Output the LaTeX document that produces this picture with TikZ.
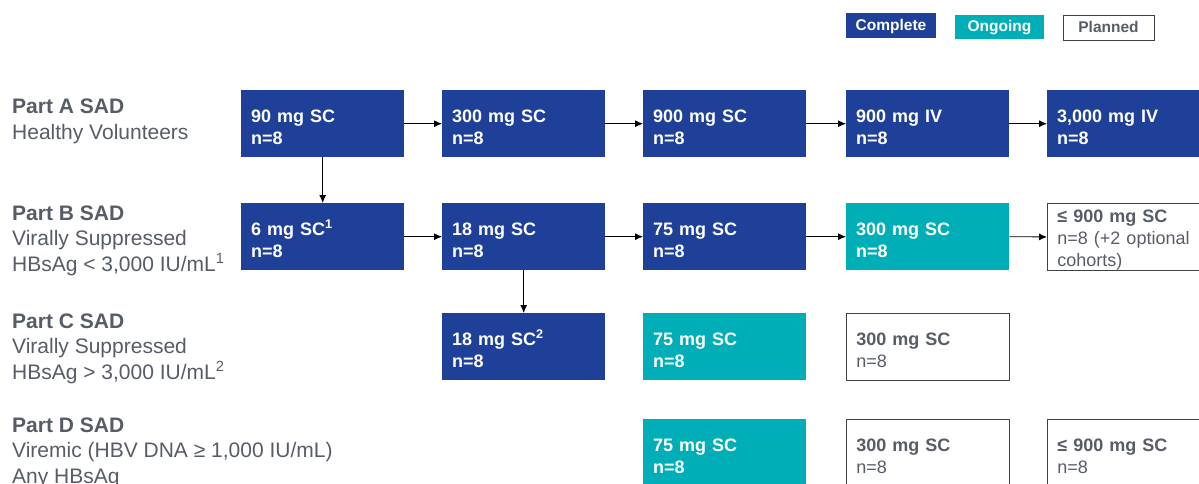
\documentclass[tikz,border=0pt]{standalone}
\usepackage{fontspec}
\setmainfont{Liberation Sans}
\usetikzlibrary{arrows.meta}
\definecolor{cblue}{RGB}{30,64,152}
\definecolor{cteal}{RGB}{0,174,183}
\definecolor{tgray}{RGB}{87,93,102}
\definecolor{bgray}{RGB}{64,64,64}
\begin{document}
\begin{tikzpicture}[x=1pt,y=-1pt,
  box/.style={rectangle, minimum width=163pt, minimum height=67pt, text width=143pt,
    inner xsep=10pt, inner ysep=0pt, align=left, anchor=north west,
    font=\fontsize{18}{22}\selectfont, text height=19pt},
  done/.style={box, fill=cblue, text=white, font=\fontsize{18}{22}\selectfont\bfseries},
  ongo/.style={box, fill=cteal, text=white, font=\fontsize{18}{22}\selectfont\bfseries},
  plan/.style={box, draw=bgray, line width=0.9pt, fill=white, text=tgray},
  lbl/.style={anchor=base west, align=left, text=tgray,
    font=\fontsize{21}{25.5}\selectfont, inner sep=0pt},
  leg/.style={rectangle, inner sep=0pt, text height=11.5pt, text depth=2pt,
    font=\fontsize{15.5}{18}\selectfont\bfseries},
  arr/.style={-{Latex[length=8pt,width=7pt]}, line width=0.8pt, black},
]
\clip (0,0) rectangle (1199,484);
\fill[white] (0,0) rectangle (1199,484);

% legend
\node[leg, fill=cblue, text=white, minimum width=90pt, minimum height=25pt] (lc) at (891,25.5) {Complete};
\node[leg, fill=cteal, text=white, minimum width=89pt, minimum height=24pt] (lo) at (999.5,27) {Ongoing};
\node[leg, draw=bgray, line width=0.9pt, text=tgray, minimum width=91pt, minimum height=25pt] (lp) at (1108.5,27.5) {Planned};

% left labels (anchored at the baseline of the last line)
\node[lbl] (la) at (12,139.5) {\textbf{Part A SAD}\\Healthy Volunteers};
\node[lbl] (lb) at (12,271) {\textbf{Part B SAD}\\Virally Suppressed\\HBsAg < 3,000 IU/mL\textsuperscript{1}};
\node[lbl] (lcc) at (12,379) {\textbf{Part C SAD}\\Virally Suppressed\\HBsAg > 3,000 IU/mL\textsuperscript{2}};
\node[lbl] (ld) at (12,483) {\textbf{Part D SAD}\\Viremic (HBV DNA ≥ 1,000 IU/mL)\\Any HBsAg};

% row A
\node[done] (a1) at (241,90) {90 mg SC\\n=8};
\node[done] (a2) at (442,90) {300 mg SC\\n=8};
\node[done] (a3) at (643,90) {900 mg SC\\n=8};
\node[done] (a4) at (846,90) {900 mg IV\\n=8};
\node[done] (a5) at (1047,90) {3,000 mg IV\\n=8};

% row B
\node[done] (b1) at (241,203) {6 mg SC\textsuperscript{1}\\n=8};
\node[done] (b2) at (442,203) {18 mg SC\\n=8};
\node[done] (b3) at (643,203) {75 mg SC\\n=8};
\node[ongo] (b4) at (846,203) {300 mg SC\\n=8};
\node[plan] (b5) at (1047,203) {\textbf{≤ 900 mg SC}\\n=8 (+2 optional cohorts)};

% row C
\node[done] (c2) at (442,313) {18 mg SC\textsuperscript{2}\\n=8};
\node[ongo] (c3) at (643,313) {75 mg SC\\n=8};
\node[plan] (c4) at (846,313) {\textbf{300 mg SC}\\n=8};

% row D
\node[ongo] (d3) at (643,419) {75 mg SC\\n=8};
\node[plan] (d4) at (846,419) {\textbf{300 mg SC}\\n=8};
\node[plan] (d5) at (1047,419) {\textbf{≤ 900 mg SC}\\n=8};

% arrows
\draw[arr] (a1.east) -- (a2.west);
\draw[arr] (a2.east) -- (a3.west);
\draw[arr] (a3.east) -- (a4.west);
\draw[arr] (a4.east) -- (a5.west);
\draw[arr] (b1.east) -- (b2.west);
\draw[arr] (b2.east) -- (b3.west);
\draw[arr] (b3.east) -- (b4.west);
\draw[arr] (b4.east) -- (b5.west);
\draw[arr] (a1.south) -- (b1.north);
\draw[arr] (b2.south) -- (c2.north);
\end{tikzpicture}
\end{document}
